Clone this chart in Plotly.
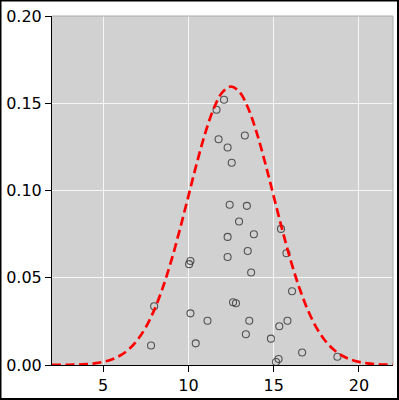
import plotly.graph_objects as go

# Scatter points (value, density position)
pts_x = [12.09, 11.65, 11.77, 12.30, 12.54, 13.31, 12.42, 12.97, 12.30, 12.30,
         10.12, 10.04, 13.43, 13.84, 13.48, 15.43, 15.75, 13.68, 7.99, 7.81,
         10.12, 11.12, 10.43, 12.62, 12.79, 16.08, 13.57, 13.37, 15.81, 15.33,
         14.84, 15.29, 15.14, 16.67, 18.74]
pts_y = [0.152, 0.1463, 0.1294, 0.1246, 0.1159, 0.1315, 0.0918, 0.0822, 0.0734, 0.0619,
         0.0596, 0.0578, 0.0912, 0.0749, 0.0653, 0.0780, 0.0640, 0.0530, 0.0337, 0.0112,
         0.0296, 0.0254, 0.0124, 0.0360, 0.0354, 0.0423, 0.0254, 0.0176, 0.0254, 0.0222,
         0.0151, 0.0034, 0.0017, 0.0072, 0.0047]

# Density curve
curve_x = [2.0, 2.5, 3.0, 3.5, 4.0, 4.5, 5.0, 5.5, 6.0, 6.5, 7.0, 7.5, 8.0, 8.5, 9.0,
           9.5, 10.0, 10.5, 11.0, 11.5, 12.0, 12.5, 13.0, 13.5, 14.0, 14.5, 15.0, 15.5,
           16.0, 16.5, 17.0, 17.5, 18.0, 18.5, 19.0, 19.5, 20.0, 20.5, 21.0, 21.5, 22.0]
curve_y = [0.00002, 0.00005, 0.00012, 0.00024, 0.00049, 0.00095, 0.00177, 0.00317,
           0.00543, 0.00896, 0.0142, 0.0216, 0.0316, 0.0444, 0.0599, 0.0777, 0.0968,
           0.1159, 0.1333, 0.1473, 0.1564, 0.1596, 0.1564, 0.1473, 0.1333, 0.1159,
           0.0968, 0.0777, 0.0599, 0.0444, 0.0316, 0.0216, 0.0142, 0.00896, 0.00543,
           0.00317, 0.00177, 0.00095, 0.00049, 0.00024, 0.00012]

x_ticks = [5, 10, 15, 20]
y_ticks = [0.00, 0.05, 0.10, 0.15, 0.20]
y_tick_labels = ["0.00", "0.05", "0.10", "0.15", "0.20"]

fig = go.Figure()
fig.add_trace(go.Scatter(
    x=pts_x, y=pts_y, mode="markers",
    marker=dict(symbol="circle-open", size=7, color="rgba(60,60,60,0.85)",
                line=dict(width=1.1)),
    cliponaxis=False, showlegend=False))
fig.add_trace(go.Scatter(
    x=curve_x, y=curve_y, mode="lines",
    line=dict(color="#ff0000", width=2.7, dash="9px,4.5px", shape="spline"),
    cliponaxis=True, showlegend=False))

L, R, T, B = 52, 6, 16, 35
W, H = 399, 400
pw, ph = W - L - R, H - T - B

fig.update_layout(
    width=W, height=H,
    margin=dict(l=L, r=R, t=T, b=B),
    paper_bgcolor="white", plot_bgcolor="#d1d1d1",
    font=dict(family="DejaVu Sans", size=16, color="black"),
    xaxis=dict(range=[2, 22], tickvals=x_ticks, showgrid=True, gridcolor="rgba(255,255,255,0.8)",
               gridwidth=1, zeroline=False, showline=True, linecolor="black", linewidth=1,
               ticks="outside", ticklen=6, tickwidth=1, tickcolor="black"),
    yaxis=dict(range=[0, 0.2], tickvals=y_ticks, ticktext=y_tick_labels, showgrid=True,
               gridcolor="rgba(255,255,255,0.8)", gridwidth=1, zeroline=False, showline=True,
               linecolor="black", linewidth=1, ticks="outside", ticklen=6, tickwidth=1,
               tickcolor="black"),
    shapes=[
        dict(type="line", xref="paper", yref="paper", x0=0, x1=1, y0=1, y1=1,
             line=dict(color="#aaaaaa", width=1), layer="above"),
        dict(type="line", xref="paper", yref="paper", x0=1, x1=1, y0=0, y1=1,
             line=dict(color="#aaaaaa", width=1), layer="above"),
        dict(type="rect", xref="paper", yref="paper",
             x0=(0.5 - L) / pw, x1=(W - 1 - L) / pw,
             y0=-(H - 1 - (T + ph)) / ph, y1=1 + (T - 0.5) / ph,
             line=dict(color="black", width=2), fillcolor="rgba(0,0,0,0)", layer="above"),
    ],
)

fig.write_html("out.html")
